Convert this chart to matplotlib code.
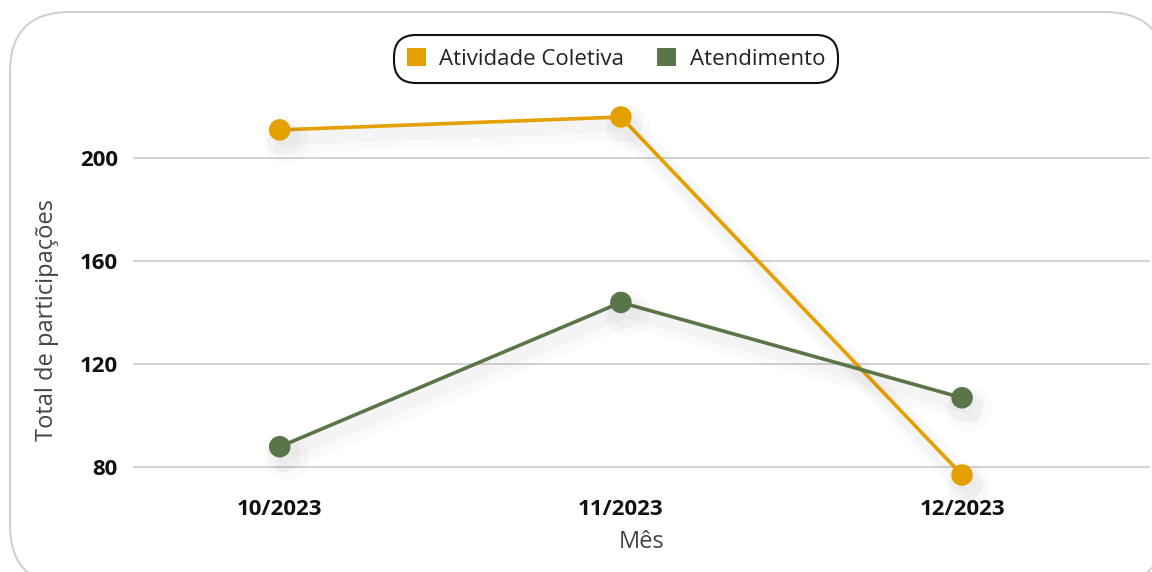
import numpy as np
from matplotlib import pyplot as plt
from matplotlib.patches import FancyBboxPatch, Patch
import matplotlib.patheffects as pe

plt.rcParams['font.family'] = ['Open Sans', 'DejaVu Sans']

meses = ['10/2023', '11/2023', '12/2023']
atividade_coletiva = [211, 216, 77]
atendimento = [88, 144, 107]

cor_coletiva = '#E3A000'
cor_atendimento = '#5A7548'

fig = plt.figure(figsize=(11.52, 5.72), dpi=100)
ax = fig.add_axes([0.1155, 0.147, 0.8825, 0.734])

# moldura arredondada
borda = FancyBboxPatch((10, -13), 1155, 573, boxstyle='round,pad=0,rounding_size=60',
                       transform=None, facecolor='white', edgecolor='#d0d0d0', lw=1.5, zorder=-10)
fig.patches.append(borda)
fig.patch.set_alpha(0)
ax.set_facecolor('none')

x = np.arange(len(meses))
sombra = [pe.SimpleLineShadow(offset=(5, -8), shadow_color='#000000', alpha=0.02, linewidth=18),
          pe.SimpleLineShadow(offset=(3, -6), shadow_color='#000000', alpha=0.025, linewidth=10),
          pe.Normal()]

ax.plot(x, atividade_coletiva, color=cor_coletiva, lw=2.6, marker='o', markersize=14.5,
        path_effects=sombra, zorder=3, clip_on=False)
ax.plot(x, atendimento, color=cor_atendimento, lw=2.6, marker='o', markersize=14.5,
        path_effects=sombra, zorder=3, clip_on=False)

ax.set_xlim(-0.43, 2.55)
ax.set_ylim(72, 235)
ax.set_yticks([80, 120, 160, 200])
ax.set_xticks(x)
ax.set_xticklabels(meses)
ax.grid(axis='y', color='#cccccc', lw=1.2)
ax.set_axisbelow(True)
for s in ax.spines.values():
    s.set_visible(False)
ax.tick_params(length=0, labelsize=16)
ax.tick_params(axis='y', pad=11)
ax.tick_params(axis='x', pad=8)
for lab in ax.get_xticklabels() + ax.get_yticklabels():
    lab.set_fontweight('bold')
    lab.set_color('#111111')

ax.set_ylabel('Total de participações', fontsize=17, color='#444444')
ax.yaxis.set_label_coords(-0.073, 0.4)
ax.set_xlabel('Mês', fontsize=17, color='#444444', labelpad=7)

handles = [Patch(facecolor=cor_coletiva, label='Atividade Coletiva'),
           Patch(facecolor=cor_atendimento, label='Atendimento')]
leg = fig.legend(handles=handles, loc='center', bbox_to_anchor=(616 / 1152, 1 - 59 / 572),
                 ncol=2, fontsize=16, frameon=True, handlelength=0.85, handleheight=0.85,
                 handletextpad=0.6, columnspacing=1.5, borderpad=0.3)
frame = leg.get_frame()
frame.set_edgecolor('#111111')
frame.set_linewidth(1.5)
frame.set_alpha(1)
frame.set_boxstyle('round,pad=0.3,rounding_size=1.0')
for t in leg.get_texts():
    t.set_color('#222222')

fig.savefig('out.png', dpi=100)
